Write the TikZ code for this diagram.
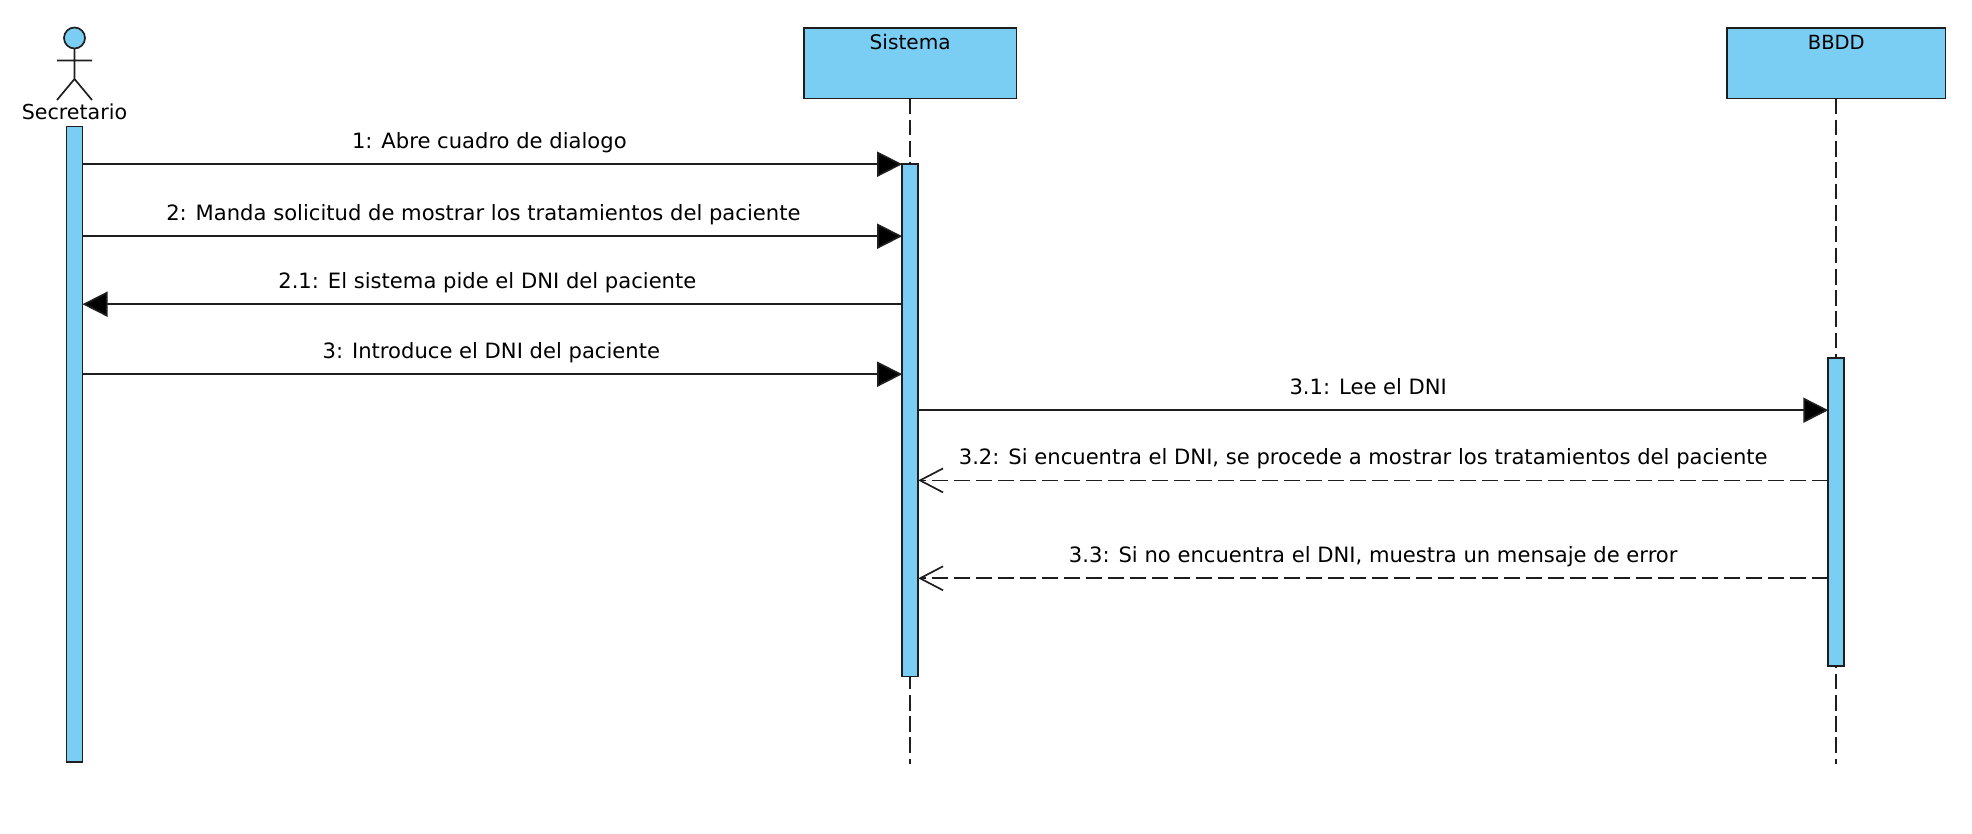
\documentclass[tikz,border=0pt]{standalone}
\usepackage{fontspec}
\setmainfont{DejaVu Sans}
\usetikzlibrary{arrows.meta,calc}
\definecolor{umlblue}{HTML}{7ACEF4}
\definecolor{umlline}{HTML}{1E1E1E}
\tikzset{
  base line/.style={line width=1.7pt,draw=umlline},
  head box/.style={base line,fill=umlblue,rectangle,inner sep=0pt,outer sep=0pt,minimum width=212.5pt,minimum height=70.5pt},
  box title/.style={anchor=base,inner sep=0pt},
  activation/.style={base line,fill=umlblue,rectangle,inner sep=0pt,outer sep=0pt,minimum width=16pt},
  lifeline/.style={base line,dash pattern=on 15.7pt off 5.6pt},
  call/.style={base line,-{Triangle[length=25pt,width=25pt,fill=black]}},
  reply/.style={base line,dash pattern=on 16.5pt off 5.5pt,-{Straight Barb[length=23pt,width=24pt,line width=1.7pt]}},
  msg/.style={anchor=base,inner sep=0pt,font=\fontsize{21.1}{26}\selectfont,pos=0.5,yshift=15.8pt},
}
\begin{document}
\begin{tikzpicture}[x=1pt,y=-1pt]
\useasboundingbox (0,0) rectangle (1972,834);
% level coordinates
\coordinate (y1) at (0,164.2);
\coordinate (y2) at (0,236.2);
\coordinate (y3) at (0,304.2);
\coordinate (y4) at (0,374.2);
\coordinate (y5) at (0,410.2);
\coordinate (y6) at (0,480.4);
\coordinate (y7) at (0,578.3);
% actor
\node[base line,circle,fill=umlblue,inner sep=0pt,outer sep=0pt,minimum size=21pt] (head) at (74.5,38) {};
\coordinate (hip) at (74.5,79);
\coordinate (armL) at (57,60.5);
\coordinate (armR) at (92,60.5);
\coordinate (legL) at (57,100);
\coordinate (legR) at (92,100);
\draw[base line] (head.south) -- (hip) (armL) -- (armR) (legL) -- (hip) -- (legR);
\node[box title,font=\fontsize{20.6}{25}\selectfont] (secretario) at (74.5,119.5) {Secretario};
% heads
\node[head box] (sistema) at (910.2,63.2) {};
\node[box title,font=\fontsize{20.1}{25}\selectfont] (sistemaT) at (910.2,49.5) {Sistema};
\node[head box,minimum width=218.5pt] (bbdd) at (1836.3,63.2) {};
\node[box title,font=\fontsize{19.5}{24}\selectfont] (bbddT) at (1836.3,49.5) {BBDD};
% lifeline ends
\coordinate (sisEnd) at (910.2,764);
\coordinate (bbEnd) at (1836.3,764);
\draw[lifeline] (sistema.south) -- (sisEnd);
\draw[lifeline] (bbdd.south) -- (bbEnd);
% activations
\node[activation,minimum height=635.5pt] (a1) at (74.5,444.2) {};
\node[activation,minimum height=512.5pt] (a2) at (910.2,420.3) {};
\node[activation,minimum height=308pt] (a3) at (1836.3,512) {};
% messages
\draw[call] (a1.east |- y1) -- node[msg,xshift=-3pt] (m1) {1: Abre cuadro de dialogo} (a2.west |- y1);
\draw[call] (a1.east |- y2) -- node[msg,xshift=-9pt] (m2) {2: Manda solicitud de mostrar los tratamientos del paciente} (a2.west |- y2);
\draw[call] (a2.west |- y3) -- node[msg,xshift=-5pt] (m21) {2.1: El sistema pide el DNI del paciente} (a1.east |- y3);
\draw[call] (a1.east |- y4) -- node[msg,xshift=-1pt] (m3) {3: Introduce el DNI del paciente} (a2.west |- y4);
\draw[call] (a2.east |- y5) -- node[msg,xshift=-5pt] (m31) {3.1: Lee el DNI} (a3.west |- y5);
\draw[reply] (a3.west |- y6) -- node[msg,xshift=-10pt] (m32) {3.2: Si encuentra el DNI, se procede a mostrar los tratamientos del paciente} (a2.east |- y6);
\draw[reply] (a3.west |- y7) -- node[msg] (m33) {3.3: Si no encuentra el DNI, muestra un mensaje de error} (a2.east |- y7);
\end{tikzpicture}
\end{document}
